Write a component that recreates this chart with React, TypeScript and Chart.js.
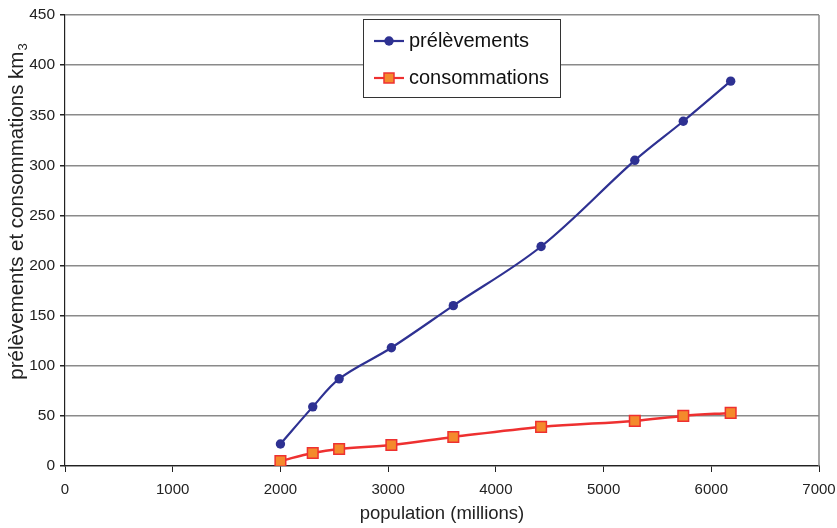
import React, { useEffect, useRef } from "react";
import { Chart, registerables } from "chart.js";

Chart.register(...registerables);

const population = [2000, 2300, 2545, 3030, 3605, 4420, 5290, 5740, 6180];
const prelevements = [22, 59, 87, 118, 160, 219, 305, 344, 384];
const consommations = [5, 13, 17, 21, 29, 39, 45, 50, 53];
const seriesLabels = ["prélèvements", "consommations"];
const xTitle = "population (millions)";
const yTitleMain = "prélèvements et consommations km";
const yTitleSub = "3";

const BLUE = "#2E3192";
const RED = "#EE3030";
const ORANGE = "#F48A2C";
const FONT = "'Liberation Sans', Arial, sans-serif";

const legendPlugin = {
  id: "boxLegend",
  afterDraw(chart: any) {
    const ctx = chart.ctx;
    const x0 = 363.5, y0 = 19.5, w = 197, h = 78;
    ctx.save();
    ctx.fillStyle = "#ffffff";
    ctx.fillRect(x0, y0, w, h);
    ctx.strokeStyle = "#333333";
    ctx.lineWidth = 1;
    ctx.strokeRect(x0, y0, w, h);
    const rows = [
      { y: 41, color: BLUE, label: seriesLabels[0], square: false },
      { y: 78, color: RED, label: seriesLabels[1], square: true },
    ];
    for (const r of rows) {
      ctx.strokeStyle = r.color;
      ctx.lineWidth = 2.2;
      ctx.beginPath();
      ctx.moveTo(374, r.y);
      ctx.lineTo(404, r.y);
      ctx.stroke();
      if (r.square) {
        ctx.fillStyle = ORANGE;
        ctx.fillRect(384, r.y - 5, 10, 10);
        ctx.lineWidth = 1.5;
        ctx.strokeRect(384, r.y - 5, 10, 10);
      } else {
        ctx.fillStyle = BLUE;
        ctx.beginPath();
        ctx.arc(389, r.y, 4.7, 0, Math.PI * 2);
        ctx.fill();
      }
      ctx.fillStyle = "#111111";
      ctx.font = `20px ${FONT}`;
      ctx.textBaseline = "middle";
      ctx.textAlign = "left";
      ctx.fillText(r.label, 409, r.y);
    }

    // y axis title with subscript
    ctx.save();
    ctx.translate(23, 211.5);
    ctx.rotate(-Math.PI / 2);
    ctx.fillStyle = "#222";
    ctx.textBaseline = "alphabetic";
    ctx.textAlign = "left";
    ctx.font = `20.5px ${FONT}`;
    const wMain = ctx.measureText(yTitleMain).width;
    ctx.font = `13px ${FONT}`;
    const wSub = ctx.measureText(yTitleSub).width;
    const start = -(wMain + wSub + 1) / 2;
    ctx.font = `20.5px ${FONT}`;
    ctx.fillText(yTitleMain, start, 0);
    ctx.font = `13px ${FONT}`;
    ctx.fillText(yTitleSub, start + wMain + 1, 4);
    ctx.restore();

    ctx.restore();
  },
  beforeDatasetsDraw(chart: any) {
    const { ctx, chartArea } = chart;
    ctx.save();
    ctx.strokeStyle = "#8a8a8a";
    ctx.lineWidth = 1.5;
    ctx.beginPath();
    ctx.moveTo(chartArea.right, chartArea.top);
    ctx.lineTo(chartArea.right, chartArea.bottom);
    ctx.stroke();
    ctx.restore();
  },
};

export default function App() {
  const ref = useRef<HTMLCanvasElement>(null);
  useEffect(() => {
    document.body.style.margin = "0";
    const chart = new Chart(ref.current!, {
      type: "line",
      data: {
        datasets: [
          {
            label: seriesLabels[0],
            data: population.map((x, i) => ({ x, y: prelevements[i] })),
            borderColor: BLUE,
            backgroundColor: BLUE,
            borderWidth: 2.2,
            pointRadius: 4.7,
            pointBorderWidth: 0,
            pointStyle: "circle",
            tension: 0.35,
          },
          {
            label: seriesLabels[1],
            data: population.map((x, i) => ({ x, y: consommations[i] })),
            borderColor: RED,
            backgroundColor: ORANGE,
            pointBorderColor: RED,
            borderWidth: 2.5,
            pointRadius: 7.5,
            pointBorderWidth: 1.5,
            pointStyle: "rect",
            tension: 0.35,
          },
        ],
      },
      options: {
        responsive: false,
        animation: false,
        layout: { padding: { left: 0, top: 15, right: 18, bottom: 0 } },
        plugins: { legend: { display: false }, tooltip: { enabled: false } },
        scales: {
          x: {
            type: "linear",
            min: 0,
            max: 7000,
            afterFit: (s: any) => { s.height = 62; s.paddingLeft = 0; s.paddingRight = 0; },
            ticks: {
              stepSize: 1000,
              color: "#222",
              font: { family: FONT, size: 15 },
              padding: 9,
              maxRotation: 0,
              callback: (v: any) => String(v),
            },
            grid: { drawOnChartArea: false, drawTicks: true, tickLength: 6, tickColor: "#222" },
            border: { color: "#222", width: 1.2 },
            title: { display: true, text: xTitle, color: "#222", font: { family: FONT, size: 18.5 }, padding: { top: 0, bottom: 3 } },
          },
          y: {
            min: 0,
            max: 450,
            afterFit: (s: any) => { s.width = 65; s.paddingTop = 0; s.paddingBottom = 0; },
            ticks: { stepSize: 50, color: "#222", font: { family: FONT, size: 15.5 }, padding: 5, callback: (v: any) => String(v) },
            grid: { color: "#8a8a8a", lineWidth: 1.5, tickLength: 5, tickColor: "#222" },
            border: { color: "#222", width: 1.2 },
            title: { display: false },
          },
        },
      },
      plugins: [legendPlugin],
    });
    return () => chart.destroy();
  }, []);
  return <canvas ref={ref} width={837} height={528} style={{ display: "block" }} />;
}
